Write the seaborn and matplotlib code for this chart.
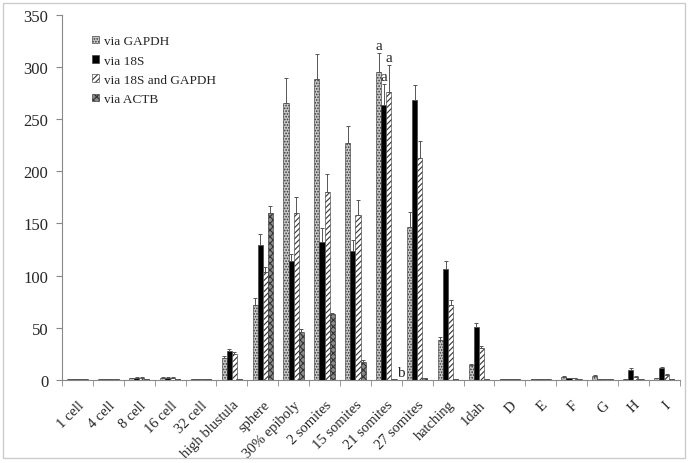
import numpy as np
import pandas as pd
import matplotlib.pyplot as plt
import seaborn as sns
from matplotlib.patches import Rectangle, Patch

stages = ["1 cell", "4 cell", "8 cell", "16 cell", "32 cell", "high blustula", "sphere",
          "30% epiboly", "2 somites", "15 somites", "21 somites", "27 somites", "hatching",
          "1dah", "D", "E", "F", "G", "H", "I"]
series = ["via GAPDH", "via 18S", "via 18S and GAPDH", "via ACTB"]

gapdh = [1, 1, 1.5, 2, 1, 21, 72, 265, 288, 227, 295, 147, 38, 14, 1, 1, 3, 4, 1, 1.5]
gapdh_err = [0.3, 0.3, 0.5, 0.5, 0.3, 2, 7, 24, 24, 16, 18, 14, 3, 1.5, 0.2, 0.2, 0.5, 0.5, 0.2, 0.3]
s18 = [1, 1, 2, 2, 1, 28, 129, 114, 132, 124, 264, 268, 106, 51, 1, 1, 2, 1, 10, 11]
s18_err = [0.3, 0.3, 0.5, 0.5, 0.3, 1.5, 11, 7, 14, 10, 20, 15, 8, 4, 0.2, 0.2, 0.3, 0.2, 1, 1]
both = [1, 1, 2, 2, 1, 25, 103, 160, 180, 158, 276, 213, 72, 31, 1, 1, 2, 1, 3, 5]
both_err = [0.3, 0.3, 0.5, 0.5, 0.3, 1.5, 5, 15, 17, 14, 26, 16, 5, 2, 0.2, 0.2, 0.3, 0.2, 0.5, 0.5]
actb = [1, 1, 1, 1, 1, 1, 160, 46, 63, 17, 1, 2, 1, 0.5, 1, 1, 1, 1, 1, 1]
actb_err = [0.2, 0.2, 0.2, 0.2, 0.2, 0.2, 7, 3, 1, 2, 0, 0.2, 0.2, 0.1, 0.2, 0.2, 0.2, 0.2, 0.2, 0.2]

values = [gapdh, s18, both, actb]
errors = [gapdh_err, s18_err, both_err, actb_err]

df = pd.DataFrame({
    "stage": stages * 4,
    "series": np.repeat(series, len(stages)),
    "value": np.concatenate(values),
})

sns.set_style("white")
plt.rcParams['font.family'] = 'serif'
plt.rcParams['font.serif'] = ['Liberation Serif', 'Times New Roman', 'Nimbus Roman',
                              'Noto Serif', 'DejaVu Serif']
plt.rcParams['hatch.linewidth'] = 0.8

fig = plt.figure(figsize=(6.9, 4.64), dpi=100)
ax = fig.add_axes([0.09, 0.179, 0.895, 0.787])

faces = ["#c8c8c8", "black", "white", "#8a8a8a"]
hatches = ["......", None, "//////", "xxxxx"]
palette = dict(zip(series, faces))
sns.barplot(data=df, x="stage", y="value", hue="series", order=stages, hue_order=series,
            palette=palette, width=0.66, errorbar=None, ax=ax, saturation=1, legend=False)

bar_groups = list(ax.containers)
for ci, cont in enumerate(bar_groups):
    xs, tops = [], []
    for bar in cont:
        bar.set_edgecolor("#333333")
        bar.set_linewidth(0.4)
        if hatches[ci]:
            bar.set_hatch(hatches[ci])
        xs.append(bar.get_x() + bar.get_width() / 2)
        tops.append(bar.get_height())
    err = np.array(errors[ci])
    ax.errorbar(xs, tops, yerr=[np.zeros_like(err), err], fmt="none",
                ecolor="#555555", elinewidth=0.7, capsize=1.5, capthick=0.7)

# significance letters at 21 somites
k = stages.index("21 somites")
for ci in range(3):
    bar = bar_groups[ci][k]
    xc = bar.get_x() + bar.get_width() / 2
    ax.text(xc, values[ci][k] + errors[ci][k] + 1, "a", ha="center", va="bottom", fontsize=11)
bar = bar_groups[3][k]
ax.text(bar.get_x() + bar.get_width() + 0.02, 1, "b", ha="left", va="bottom", fontsize=11)

ax.set_ylim(0, 350)
ax.set_yticks(range(0, 351, 50))
ax.set_xlim(-0.5, len(stages) - 0.5)
ax.set_xlabel("")
ax.set_ylabel("")
ax.set_xticks(range(len(stages)))
ax.set_xticklabels(stages, rotation=45, ha="right", rotation_mode="anchor")
ax.set_xticks(np.arange(-0.5, len(stages), 1), minor=True)
ax.tick_params(axis="x", which="major", length=0, pad=13, labelsize=10.5)
ax.tick_params(axis="x", which="minor", length=4, color="#888888", bottom=True)
ax.tick_params(axis="y", length=4, color="#888888", left=True, labelsize=12, pad=6)

for s in ["top", "right"]:
    ax.spines[s].set_visible(False)
for s in ["left", "bottom"]:
    ax.spines[s].set_color("#888888")
    ax.spines[s].set_linewidth(0.8)

handles = [Patch(facecolor=faces[i], edgecolor="#333333", linewidth=0.4,
                 hatch=hatches[i], label=series[i]) for i in range(4)]
ax.legend(handles=handles, loc="upper left", bbox_to_anchor=(0.04, 0.958), frameon=False,
          fontsize=9.5, handlelength=0.5, handleheight=0.5, handletextpad=0.4,
          labelspacing=0.55, borderaxespad=0)

fig.patches.append(Rectangle((0.005, 0.01), 0.988, 0.982, transform=fig.transFigure,
                             fill=False, edgecolor="#cccccc", linewidth=1))

fig.savefig("out.png", dpi=100)
